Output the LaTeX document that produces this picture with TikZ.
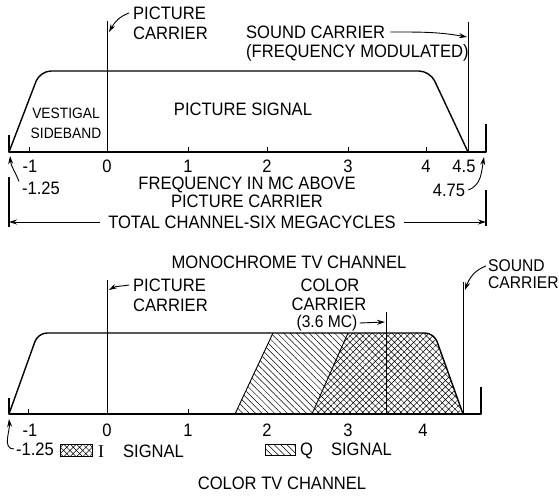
\documentclass[tikz,border=0pt]{standalone}
\usepackage{fontspec}
\setmainfont{Liberation Sans}[FakeStretch=0.92]
\newfontfamily\barI{Liberation Serif}
\usetikzlibrary{positioning, arrows.meta, patterns.meta}

\begin{document}
\begin{tikzpicture}[
    x=1pt, y=-1pt,
    every node/.style={font=\fontsize{18}{20}\selectfont, inner sep=0pt},
    outline/.style={line width=1.4pt, line join=round},
    thinline/.style={line width=0.9pt},
    arr/.style={-{Stealth[length=8pt, width=5pt]}, line width=0.9pt},
    axtick/.style={line width=0.9pt},
    qhatch/.style={pattern={Lines[angle=-45, distance=4.5pt, line width=0.5pt]}},
    ihatch/.style={pattern={Hatch[angle=45, distance=4.5pt, line width=0.5pt]}}
]
    \useasboundingbox (0,0) rectangle (559,495);

    % monochrome channel
    \draw[outline] (9,135) -- (9,152) -- (486,152) -- (486,124);
    \draw[outline, rounded corners=11pt] (9,152) -- (40,71) -- (430,71) -- (468,152);
    \draw[thinline] (107,21) -- (107,152);
    \draw[thinline] (468,22) -- (468,152);
    \foreach \xp in {29,188,267,348,426}
        \draw[axtick] (\xp,147) -- (\xp,152);
    \foreach \v/\xp in {-1/30, 0/107, 1/188, 2/267, 3/348, 4/426, 4.5/464}
        \node at (\xp,166) {\v};

    \node[anchor=west] (pcTop) at (133,13) {PICTURE};
    \node[anchor=west] (pcTop2) at (133,33) {CARRIER};
    \coordinate (pcTopTip) at (109,32);
    \draw[arr] ([xshift=-4pt]pcTop.west) to[out=200, in=60] (pcTopTip);

    \node[anchor=west] (scTop) at (246,32) {SOUND CARRIER};
    \node[anchor=west] (fm) at (246,53) {(FREQUENCY MODULATED)};
    \coordinate (scTopTip) at (467,37);
    \draw[arr] ([xshift=5pt]scTop.east) to[out=0, in=170] (scTopTip);

    \node[align=center, font=\fontsize{15}{20}\selectfont] (vsb) at (66,123) {VESTIGAL\\SIDEBAND};
    \node (psig) at (243,109) {PICTURE SIGNAL};

    \node (m125) at (41,188) {-1.25};
    \coordinate (m125Tip) at (10,156);
    \draw[arr] ([xshift=-3pt]m125.north west) to[out=110, in=-85] (m125Tip);

    \node (p475) at (449,190) {4.75};
    \coordinate (p475Tip) at (484,157);
    \draw[arr] ([xshift=3pt]p475.east) to[out=20, in=-100] (p475Tip);

    \node[align=center] (freq) at (247,192) {FREQUENCY IN MC ABOVE\\[-2pt]PICTURE CARRIER};

    \draw[outline] (9,177) -- (9,227);
    \draw[outline] (486,190) -- (486,226);
    \node (total) at (252,222) {TOTAL CHANNEL-SIX MEGACYCLES};
    \coordinate (totL) at (9,222);
    \coordinate (totR) at (486,222);
    \draw[arr] ([xshift=-8pt]total.west) -- (totL);
    \draw[arr] ([xshift=8pt]total.east) -- (totR);

    \node (mono) at (289,262) {MONOCHROME TV CHANNEL};

    % color channel
    \begin{scope}
        \clip[rounded corners=9pt] (9,414) -- (38,333) -- (434,333) -- (463,414) -- cycle;
        \path[qhatch] (235,414) -- (273,333) -- (440,333) -- (470,414) -- cycle;
        \path[ihatch, preaction={fill=white}] (312,414) -- (348,333) -- (440,333) -- (470,414) -- cycle;
    \end{scope}
    \draw[thinline] (235,414) -- (273,333);
    \draw[thinline] (312,414) -- (348,333);
    \draw[outline] (9,398) -- (9,414) -- (481,414) -- (481,387);
    \draw[outline, rounded corners=9pt] (9,414) -- (38,333) -- (434,333) -- (463,414);
    \draw[thinline] (107,280) -- (107,414);
    \draw[thinline] (386,312) -- (386,414);
    \draw[thinline] (463,282) -- (463,414);
    \foreach \xp in {28,188}
        \draw[axtick] (\xp,409) -- (\xp,414);
    \foreach \v/\xp in {-1/30, 0/107, 1/188, 2/267, 3/348, 4/423}
        \node at (\xp,430) {\v};

    \node[anchor=west] (pcBot) at (133,285) {PICTURE};
    \node[anchor=west] (pcBot2) at (133,305) {CARRIER};
    \coordinate (pcBotTip) at (109,290);
    \draw[arr] ([xshift=-4pt]pcBot.west) to[out=190, in=30] (pcBotTip);

    \node (cc) at (330,285) {COLOR};
    \node (cc2) at (329,304) {CARRIER};
    \node[font=\fontsize{17}{20}\selectfont] (ccmc) at (327,323) {(3.6 MC)};
    \coordinate (ccTip) at (385,322);
    \draw[arr] ([xshift=2pt]ccmc.east) -- (ccTip);

    \node[anchor=west, font=\fontsize{17}{20}\selectfont] (scBot) at (488,266) {SOUND};
    \node[anchor=west, font=\fontsize{17}{20}\selectfont] (scBot2) at (488,283) {CARRIER};
    \coordinate (scBotTip) at (465,290);
    \draw[arr] ([xshift=-2pt]scBot.west) to[out=200, in=70] (scBotTip);

    \node (m125b) at (35,449) {-1.25};
    \coordinate (m125bTip) at (9,419);
    \draw[arr] ([xshift=-2pt]m125b.west) to[out=180, in=-85] (m125bTip);

    \node[draw, thinline, ihatch, minimum width=32pt, minimum height=12pt] (ibox) at (76,450) {};
    \node[anchor=west] (isig) at (98,451) {{\barI I}\hspace{19pt}SIGNAL};
    \node[draw, thinline, qhatch, minimum width=30pt, minimum height=11pt] (qbox) at (280,450) {};
    \node[anchor=west] (qsig) at (300,451) {Q\hspace{18pt}SIGNAL};

    \node (color) at (282,483) {COLOR TV CHANNEL};
\end{tikzpicture}
\end{document}
